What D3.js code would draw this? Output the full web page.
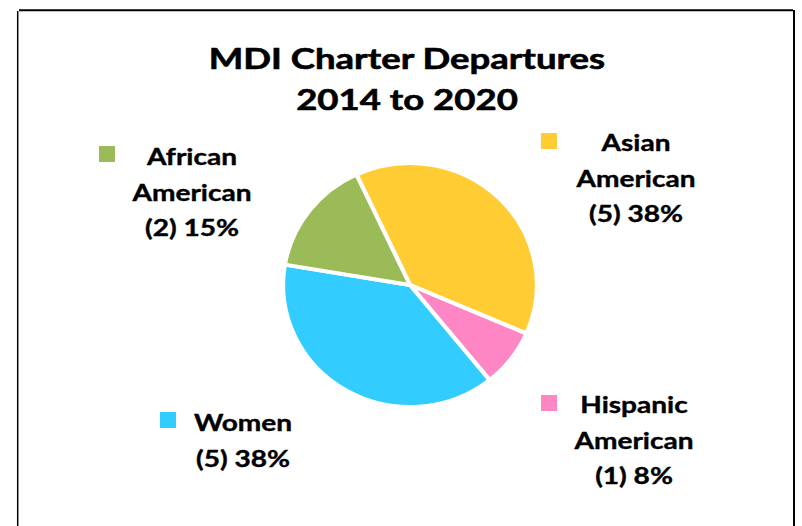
<!DOCTYPE html>
<html>
<head>
<meta charset="utf-8">
<script src="https://cdn.jsdelivr.net/npm/d3@7"></script>
<style>
    body { margin: 0; background: #fff; }
    svg { display: block; }
</style>
</head>
<body>
<div id="chart"></div>
<script>
// Slice data, clockwise from the first slice
const categories = ["Asian American", "Hispanic American", "Women", "African American"];
const counts = [5, 1, 5, 2];
const percents = ["38%", "8%", "38%", "15%"];
const colors = ["#FFCD33", "#FF86C4", "#33CCFF", "#9BBB59"];

const titleLines = ["MDI Charter Departures", "2014 to 2020"];

const width = 802;
const height = 526;
const cx = 410, cy = 285, radius = 122;
const pieStretch = 1.04;   // the original pie is a little wider than tall
const textStretch = 1.22;  // the original font is wider than Lato
const startAngle = -25 * Math.PI / 180;
const font = "Lato, 'Open Sans', sans-serif";

// Where each label block sits (center x of the text, baseline of the first line)
const labelLayout = {
    "Asian American": {x: 636, y: 151, key: [541, 133]},
    "Hispanic American": {x: 634, y: 413, key: [541, 395]},
    "Women": {x: 243, y: 431, key: [160, 412]},
    "African American": {x: 192, y: 165, key: [99, 146]}
};

const svg = d3.select("#chart").append("svg")
    .attr("width", width)
    .attr("height", height)
    .style("font-family", font);

// frame
svg.append("line").attr("x1", 19).attr("x2", 793).attr("y1", 10.3).attr("y2", 10.3)
    .attr("stroke", "#000").attr("stroke-width", 2);
svg.append("line").attr("x1", 17.7).attr("x2", 17.7).attr("y1", 11).attr("y2", height)
    .attr("stroke", "#000").attr("stroke-width", 1.5);
svg.append("line").attr("x1", 794).attr("x2", 794).attr("y1", 10).attr("y2", height)
    .attr("stroke", "#000").attr("stroke-width", 2);

// title
svg.append("g")
    .attr("text-anchor", "middle")
    .attr("font-weight", "bold")
    .attr("font-size", 29)
    .attr("stroke", "#000")
    .attr("stroke-width", 0.6)
    .selectAll("text")
    .data(titleLines)
    .join("text")
    .attr("transform", (d, i) => `translate(407,${69 + i * 41}) scale(1.26,1)`)
    .text(d => d);

const data = categories.map((c, i) => ({name: c, value: counts[i], pct: percents[i], color: colors[i]}));

const pie = d3.pie()
    .value(d => d.value)
    .sort(null)
    .startAngle(startAngle)
    .endAngle(startAngle + 2 * Math.PI);

const arc = d3.arc()
    .innerRadius(0)
    .outerRadius(radius);

const g = svg.append("g")
    .attr("transform", `translate(${cx},${cy}) scale(${pieStretch},1)`);

g.selectAll("path")
    .data(pie(data))
    .join("path")
    .attr("fill", d => d.data.color)
    .attr("stroke", "#fff")
    .attr("stroke-width", 4)
    .attr("stroke-linejoin", "round")
    .attr("d", arc);

// labels
const lineHeight = 35.5;
const labels = svg.append("g")
    .attr("font-weight", "bold")
    .attr("font-size", 23)
    .attr("fill", "#000");

data.forEach(d => {
    const pos = labelLayout[d.name];
    const words = d.name.split(" ");
    const lines = words.concat([`(${d.value}) ${d.pct}`]);
    labels.append("rect")
        .attr("x", pos.key[0])
        .attr("y", pos.key[1])
        .attr("width", 16)
        .attr("height", 16)
        .attr("fill", d.color);
    labels.append("g")
        .attr("text-anchor", "middle")
        .attr("stroke", "#000")
        .attr("stroke-width", 0.4)
        .selectAll("text")
        .data(lines)
        .join("text")
        .attr("transform", (l, i) => `translate(${pos.x},${pos.y + i * lineHeight}) scale(${textStretch},1)`)
        .text(l => l);
});
</script>
</body>
</html>
